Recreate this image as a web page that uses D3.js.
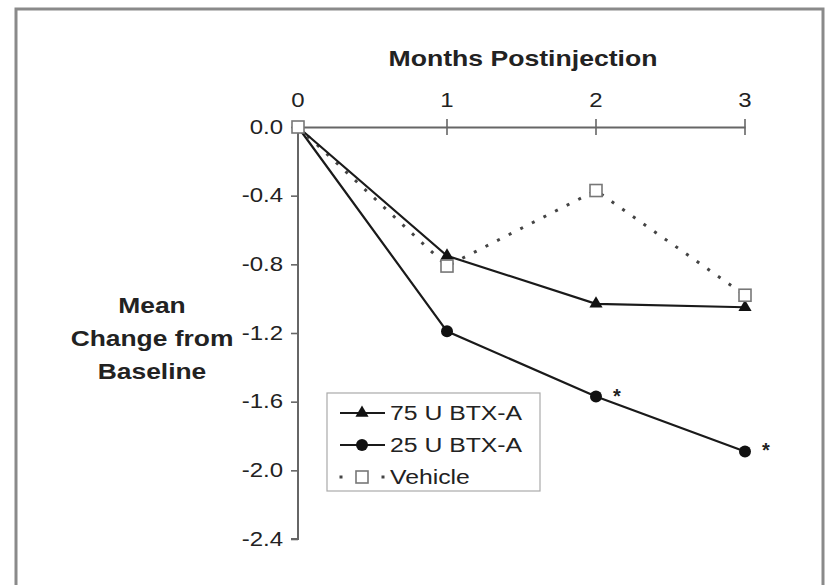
<!DOCTYPE html>
<html>
<head>
<meta charset="utf-8">
<script src="https://cdn.jsdelivr.net/npm/d3@7"></script>
<style>
  html, body { margin: 0; padding: 0; background: #fff; }
  svg { display: block; }
  text { font-family: "Liberation Sans", Arial, Helvetica, sans-serif; fill: #222; }
</style>
</head>
<body>
<svg id="chart" width="825" height="585"></svg>
<script>
// Months after injection and mean change from baseline per treatment group
const months = [0, 1, 2, 3];
const btx75 = [0, -0.75, -1.03, -1.05];
const btx25 = [0, -1.19, -1.57, -1.89];
const vehicle = [0, -0.81, -0.37, -0.98];
const yTicks = [0.0, -0.4, -0.8, -1.2, -1.6, -2.0, -2.4];
const significant = [2, 3];            // months flagged with an asterisk (25 U group)
const legendNames = ["75 U BTX-A", "25 U BTX-A", "Vehicle"];

const svg = d3.select("#chart");
const SX = 1.2;                        // horizontal stretch applied to labels

const x = d3.scaleLinear().domain([0, 3]).range([298, 745]);
const y = d3.scaleLinear().domain([0, -2.4]).range([127, 539]);

// stretched text helper
function label(g, tx, ty, str, opts = {}) {
  return g.append("text")
    .attr("transform", `translate(${tx},${ty}) scale(${opts.sx || SX},1)`)
    .attr("text-anchor", opts.anchor || "start")
    .attr("dominant-baseline", "central")
    .style("font-size", (opts.size || 18) + "px")
    .style("font-weight", opts.weight || "normal")
    .text(str);
}

// outer frame (open at the bottom)
svg.append("path")
  .attr("d", "M16,585 L16,9 L823,9 L823,585")
  .attr("fill", "none").attr("stroke", "#8a8a8a").attr("stroke-width", 3);

// top x axis
const xAxis = d3.axisTop(x).tickValues(months).tickSize(0).tickFormat("");
const gx = svg.append("g").attr("transform", `translate(0,${y(0)})`).call(xAxis);
gx.select(".domain").attr("stroke", "#666").attr("stroke-width", 2);
// ticks crossing the axis
svg.append("g").selectAll("line").data(months.slice(1)).join("line")
  .attr("x1", d => x(d)).attr("x2", d => x(d))
  .attr("y1", y(0) - 8).attr("y2", y(0) + 8)
  .attr("stroke", "#666").attr("stroke-width", 1.6);
months.forEach(m => label(svg, x(m), 100, String(m), { anchor: "middle", size: 20 }));

// left y axis
const yAxis = d3.axisLeft(y).tickValues(yTicks).tickSize(7).tickFormat("");
const gy = svg.append("g").attr("transform", `translate(${x(0)},0)`).call(yAxis);
gy.select(".domain").attr("stroke", "#666").attr("stroke-width", 2).attr("d", `M-7,${y(-2.4)}H0V${y(0)}`);
gy.selectAll(".tick line").attr("stroke", "#666").attr("stroke-width", 1.6);
yTicks.forEach(v => label(svg, 283, y(v), d3.format(".1f")(v).replace("−", "-"), { anchor: "end", size: 20 }));

// axis titles
label(svg, 523, 58, "Months Postinjection", { anchor: "middle", size: 22, weight: "bold", sx: 1.21 });
["Mean", "Change from", "Baseline"].forEach((t, i) =>
  label(svg, 152, 305 + i * 33, t, { anchor: "middle", size: 22, weight: "bold", sx: 1.2 }));

const line = d3.line().x((d, i) => x(months[i])).y(d => y(d));

// Vehicle (dotted)
svg.append("path").datum(vehicle).attr("d", line)
  .attr("fill", "none").attr("stroke", "#444").attr("stroke-width", 3)
  .attr("stroke-dasharray", "3 10");
// 75 U
svg.append("path").datum(btx75).attr("d", line)
  .attr("fill", "none").attr("stroke", "#1a1a1a").attr("stroke-width", 2.2);
// 25 U
svg.append("path").datum(btx25).attr("d", line)
  .attr("fill", "none").attr("stroke", "#1a1a1a").attr("stroke-width", 2.2);

const tri = d3.symbol().type(d3.symbolTriangle).size(75);
const sq = 12;

function triangle(g, cx, cy) {
  g.append("path").attr("d", tri()).attr("transform", `translate(${cx},${cy})`).attr("fill", "#111");
}
function circle(g, cx, cy) {
  g.append("circle").attr("cx", cx).attr("cy", cy).attr("r", 6).attr("fill", "#111");
}
function square(g, cx, cy) {
  g.append("rect").attr("x", cx - sq / 2).attr("y", cy - sq / 2).attr("width", sq).attr("height", sq)
    .attr("fill", "#fff").attr("stroke", "#777").attr("stroke-width", 1.6);
}

const marks = svg.append("g");
btx75.forEach((v, i) => { if (i > 0) triangle(marks, x(months[i]), y(v)); });
btx25.forEach((v, i) => { if (i > 0) circle(marks, x(months[i]), y(v)); });
vehicle.forEach((v, i) => square(marks, x(months[i]), y(v)));

// significance asterisks
significant.forEach(m => {
  const i = months.indexOf(m);
  label(svg, x(m) + 21, y(btx25[i]) - 1, "*", { anchor: "middle", size: 20, weight: "bold", sx: 1 });
});

// legend
const lg = svg.append("g");
lg.append("rect").attr("x", 327).attr("y", 393).attr("width", 213).attr("height", 98)
  .attr("fill", "#fff").attr("stroke", "#aaa").attr("stroke-width", 1.2);
const rows = [413, 445, 477];
rows.forEach((ry, i) => {
  if (i < 2) {
    lg.append("line").attr("x1", 340).attr("x2", 385).attr("y1", ry).attr("y2", ry)
      .attr("stroke", "#1a1a1a").attr("stroke-width", 2.2);
    if (i === 0) triangle(lg, 362, ry); else circle(lg, 362, ry);
  } else {
    [341, 383].forEach(dx => lg.append("rect")
      .attr("x", dx - 1.5).attr("y", ry - 1.5).attr("width", 3).attr("height", 3).attr("fill", "#444"));
    square(lg, 362, ry);
  }
  label(lg, 390, ry, legendNames[i], { size: 21, sx: 1.18 });
});
</script>
</body>
</html>
